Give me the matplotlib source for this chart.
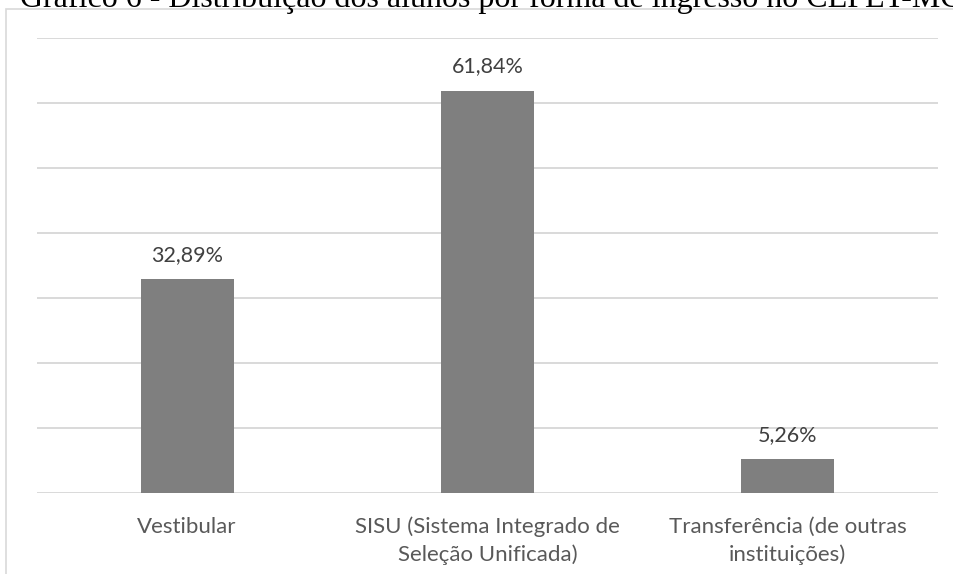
import numpy as np
import matplotlib
matplotlib.use("Agg")
from matplotlib import pyplot as plt
from matplotlib.patches import Rectangle

# Gráfico 6 - distribuição dos alunos por forma de ingresso
categorias = ["Vestibular",
              "SISU (Sistema Integrado de\nSeleção Unificada)",
              "Transferência (de outras\ninstituições)"]
percentuais = [32.89, 61.84, 5.26]
rotulos = ["32,89%", "61,84%", "5,26%"]
titulo = "Gráfico 6 - Distribuição dos alunos por forma de ingresso no CEFET-MG"

W, H = 954, 574
fig = plt.figure(figsize=(W / 100, H / 100), dpi=100)

# axes placed in pixel terms of the reference
left, right, top, bottom = 37, 938, 37.5, 493
ax = fig.add_axes([left / W, 1 - bottom / H, (right - left) / W, (bottom - top) / H])

x = np.arange(len(categorias))
ax.bar(x, percentuais, width=0.31, color="#7f7f7f", zorder=3)

for xi, v, lab in zip(x, percentuais, rotulos):
    ax.annotate(lab, (xi, v), xytext=(0, 13), textcoords="offset points",
                ha="center", va="baseline", fontsize=15.5, color="#404040",
                family="Lato")

ax.set_xlim(-0.5, len(categorias) - 0.5)
ax.set_ylim(0, 70)
ax.set_yticks(np.arange(0, 71, 10))
ax.yaxis.grid(True, color="#d9d9d9", linewidth=1.4, zorder=0)
ax.tick_params(axis="y", left=False, labelleft=False)
ax.set_xticks(x)
ax.set_xticklabels(categorias, fontsize=16, color="#595959", family="Lato",
                   linespacing=1.45)
ax.tick_params(axis="x", length=0, pad=17)
for s in ax.spines.values():
    s.set_visible(False)

# chart border (partly outside the cropped picture)
fig.patches.append(Rectangle((6.5 / W, -0.1), 1.2, 1 - 9 / H + 0.1,
                             transform=fig.transFigure, fill=False,
                             edgecolor="#d9d9d9", linewidth=1.2))

fig.text(20 / W, 1 - 7.5 / H, titulo, family="Liberation Serif", fontsize=23,
         color="black", ha="left", va="baseline")

fig.savefig("out.png", dpi=100)
